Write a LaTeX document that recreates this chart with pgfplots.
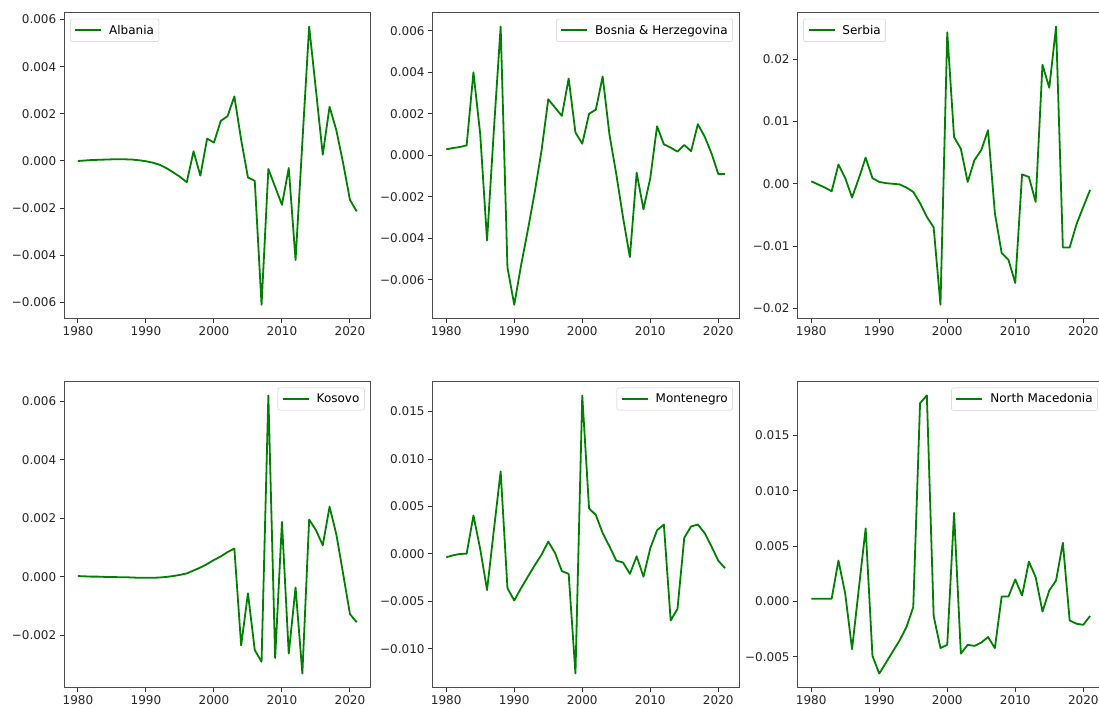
\documentclass[border=0pt]{standalone}
\usepackage{fontspec}
\setmainfont{DejaVu Sans}
\usepackage{pgfplots}
\pgfplotsset{compat=1.18}
\definecolor{mplgreen}{RGB}{0,128,0}
\tikzset{ser/.style={mplgreen, line width=1.8pt, line join=round, mark=none}}
\pgfplotsset{
  panel/.style={
    scale only axis, width=306.7pt, height=306pt,
    xmin=1977.95, xmax=2023.05,
    xtick={1980,1990,2000,2010,2020},
    xticklabels={1980,1990,2000,2010,2020},
    xtick pos=lower, ytick pos=left, tick align=outside,
    major tick length=4.2pt,
    tick style={black!80, line width=1pt},
    axis line style={black!70, line width=1pt},
    ticklabel style={font=\fontsize{12}{14}\selectfont, text=black!85},
    scaled y ticks=false,
    legend style={draw=black!20, rounded corners=2pt, fill=white, fill opacity=0.8, text opacity=1,
      font=\fontsize{12}{14}\selectfont, inner xsep=3pt, inner ysep=4pt, cells={anchor=west}},
    legend image code/.code={\draw[#1] (0pt,0pt) -- (26pt,0pt); \path (-1pt,0pt) (31pt,0pt);},
  },
  ul/.style={legend style={at={(0.02,0.98)}, anchor=north west}},
  ur/.style={legend style={at={(0.98,0.98)}, anchor=north east}},
}
\begin{document}
\begin{tikzpicture}
% Albania
\begin{axis}[panel, ul, at={(64pt,-12.7pt)}, anchor=north west,
  ymin=-0.00669, ymax=0.00629,
  ytick={-0.006,-0.004,-0.002,0,0.002,0.004,0.006},
  yticklabels={−0.006,−0.004,−0.002,0.000,0.002,0.004,0.006}]
\addplot[ser] coordinates {(1980,0.0000) (1981,0.00002) (1982,0.00004) (1983,0.00005) (1984,0.00006) (1985,0.00007) (1986,0.00007) (1987,0.00007) (1988,0.00006) (1989,0.00003) (1990,-0.00001) (1991,-0.00007) (1992,-0.00016) (1993,-0.0003) (1994,-0.00048) (1995,-0.00067) (1996,-0.0009) (1997,0.00041) (1998,-0.00062) (1999,0.00095) (2000,0.00078) (2001,0.0017) (2002,0.0019) (2003,0.00274) (2004,0.0009) (2005,-0.0007) (2006,-0.00084) (2007,-0.0061) (2008,-0.00034) (2009,-0.0011) (2010,-0.00186) (2011,-0.0003) (2012,-0.0042) (2013,0.0008) (2014,0.0057) (2015,0.003) (2016,0.00027) (2017,0.0023) (2018,0.0013) (2019,-0.0001) (2020,-0.00165) (2021,-0.00214)};
\addlegendentry{Albania}
\end{axis}
% Bosnia
\begin{axis}[panel, ur, at={(432.3pt,-12.7pt)}, anchor=north west,
  ymin=-0.00787, ymax=0.00687,
  ytick={-0.006,-0.004,-0.002,0,0.002,0.004,0.006},
  yticklabels={−0.006,−0.004,−0.002,0.000,0.002,0.004,0.006}]
\addplot[ser] coordinates {(1980,0.00029) (1981,0.00035) (1982,0.0004) (1983,0.00048) (1984,0.0040) (1985,0.001) (1986,-0.0041) (1987,0.0012) (1988,0.0062) (1989,-0.0054) (1990,-0.0072) (1991,-0.0053) (1992,-0.0036) (1993,-0.0018) (1994,0.0002) (1995,0.0027) (1996,0.0023) (1997,0.0019) (1998,0.0037) (1999,0.0011) (2000,0.00056) (2001,0.002) (2002,0.0022) (2003,0.0038) (2004,0.001) (2005,-0.0009) (2006,-0.003) (2007,-0.0049) (2008,-0.00084) (2009,-0.0026) (2010,-0.0011) (2011,0.0014) (2012,0.00053) (2013,0.00037) (2014,0.00018) (2015,0.0005) (2016,0.0002) (2017,0.0015) (2018,0.0009) (2019,0.0001) (2020,-0.0009) (2021,-0.0009)};
\addlegendentry{Bosnia \& Herzegovina}
\end{axis}
% Serbia
\begin{axis}[panel, ul, at={(797.3pt,-12.7pt)}, anchor=north west,
  ymin=-0.02163, ymax=0.02743,
  ytick={-0.02,-0.01,0,0.01,0.02},
  yticklabels={−0.02,−0.01,0.00,0.01,0.02}]
\addplot[ser] coordinates {(1980,0.0004) (1981,-0.0001) (1982,-0.0006) (1983,-0.0012) (1984,0.0031) (1985,0.0009) (1986,-0.0022) (1987,0.0009) (1988,0.0042) (1989,0.0009) (1990,0.0003) (1991,0.0001) (1992,0.0000) (1993,-0.0001) (1994,-0.0006) (1995,-0.0013) (1996,-0.0031) (1997,-0.0053) (1998,-0.007) (1999,-0.0194) (2000,0.0243) (2001,0.0075) (2002,0.0056) (2003,0.0003) (2004,0.0038) (2005,0.0054) (2006,0.0086) (2007,-0.0047) (2008,-0.0111) (2009,-0.0122) (2010,-0.0159) (2011,0.0015) (2012,0.0011) (2013,-0.0029) (2014,0.0191) (2015,0.0154) (2016,0.0252) (2017,-0.0102) (2018,-0.0102) (2019,-0.0065) (2020,-0.0037) (2021,-0.001)};
\addlegendentry{Serbia}
\end{axis}
% Kosovo
\begin{axis}[panel, ur, at={(64pt,-381.5pt)}, anchor=north west,
  ymin=-0.00378, ymax=0.00668,
  ytick={-0.002,0,0.002,0.004,0.006},
  yticklabels={−0.002,0.000,0.002,0.004,0.006}]
\addplot[ser] coordinates {(1980,0.00003) (1981,0.00002) (1982,0.00001) (1983,0.00001) (1984,0.0) (1985,0.0) (1986,-0.00001) (1987,-0.00001) (1988,-0.00002) (1989,-0.00003) (1990,-0.00003) (1991,-0.00003) (1992,-0.00002) (1993,0.0) (1994,0.00003) (1995,0.00007) (1996,0.00012) (1997,0.00022) (1998,0.00032) (1999,0.00044) (2000,0.00058) (2001,0.0007) (2002,0.00085) (2003,0.00097) (2004,-0.00234) (2005,-0.00056) (2006,-0.0025) (2007,-0.0029) (2008,0.0062) (2009,-0.00277) (2010,0.00188) (2011,-0.00262) (2012,-0.00036) (2013,-0.0033) (2014,0.00196) (2015,0.0016) (2016,0.00108) (2017,0.0024) (2018,0.00145) (2019,0.0001) (2020,-0.00127) (2021,-0.00155)};
\addlegendentry{Kosovo}
\end{axis}
% Montenegro
\begin{axis}[panel, ur, at={(432.3pt,-381.5pt)}, anchor=north west,
  ymin=-0.01407, ymax=0.01817,
  ytick={-0.010,-0.005,0,0.005,0.010,0.015},
  yticklabels={−0.010,−0.005,0.000,0.005,0.010,0.015}]
\addplot[ser] coordinates {(1980,-0.00035) (1981,-0.00014) (1982,0.0000) (1983,0.00003) (1984,0.00405) (1985,0.0005) (1986,-0.0038) (1987,0.0025) (1988,0.0087) (1989,-0.0036) (1990,-0.0049) (1991,-0.0036) (1992,-0.0024) (1993,-0.0012) (1994,-0.0001) (1995,0.0013) (1996,0.0001) (1997,-0.0018) (1998,-0.0021) (1999,-0.0126) (2000,0.0167) (2001,0.0048) (2002,0.0041) (2003,0.0022) (2004,0.0008) (2005,-0.0007) (2006,-0.0009) (2007,-0.0021) (2008,-0.00025) (2009,-0.0024) (2010,0.0006) (2011,0.0025) (2012,0.0031) (2013,-0.007) (2014,-0.0058) (2015,0.0017) (2016,0.0029) (2017,0.0031) (2018,0.0022) (2019,0.0008) (2020,-0.0007) (2021,-0.0015)};
\addlegendentry{Montenegro}
\end{axis}
% North Macedonia
\begin{axis}[panel, ur, at={(797.3pt,-381.5pt)}, anchor=north west,
  ymin=-0.007755, ymax=0.019855,
  ytick={-0.005,0,0.005,0.010,0.015},
  yticklabels={−0.005,0.000,0.005,0.010,0.015}]
\addplot[ser] coordinates {(1980,0.00025) (1981,0.00025) (1982,0.00025) (1983,0.00025) (1984,0.0037) (1985,0.0007) (1986,-0.0043) (1987,0.0012) (1988,0.0066) (1989,-0.0049) (1990,-0.0065) (1991,-0.0055) (1992,-0.0045) (1993,-0.0035) (1994,-0.0023) (1995,-0.0005) (1996,0.0179) (1997,0.0186) (1998,-0.0013) (1999,-0.0042) (2000,-0.0039) (2001,0.008) (2002,-0.0047) (2003,-0.0039) (2004,-0.004) (2005,-0.0037) (2006,-0.0032) (2007,-0.0042) (2008,0.00045) (2009,0.00045) (2010,0.002) (2011,0.00054) (2012,0.0036) (2013,0.0022) (2014,-0.0009) (2015,0.001) (2016,0.0019) (2017,0.0053) (2018,-0.0017) (2019,-0.002) (2020,-0.0021) (2021,-0.0013)};
\addlegendentry{North Macedonia}
\end{axis}
\pgfresetboundingbox
\path[use as bounding box] (0pt,0pt) rectangle (1099pt,-709pt);
\end{tikzpicture}
\end{document}
